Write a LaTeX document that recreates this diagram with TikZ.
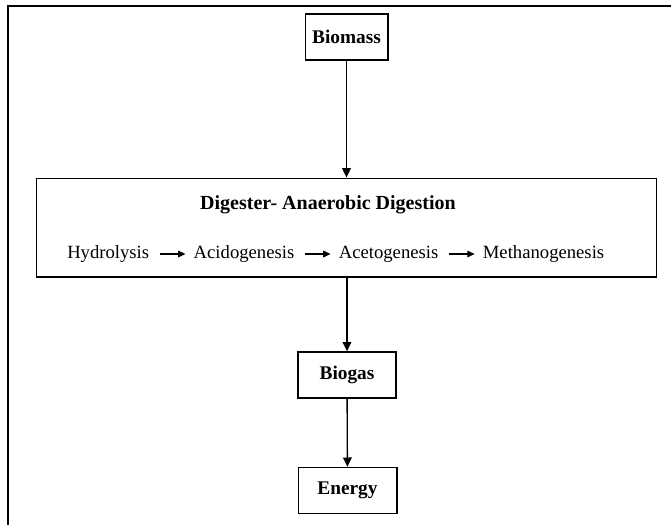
\documentclass[tikz,border=0pt]{standalone}
\usepackage{fontspec}
\setmainfont{Liberation Serif}
\usetikzlibrary{arrows.meta, positioning}

\begin{document}
\begin{tikzpicture}[x=0.75pt, y=-0.75pt, >={Triangle[length=7pt, width=6.5pt]}, node distance=33pt,
        box/.style={rectangle, draw, line width=1pt, minimum height=34.5pt, font=\fontsize{14.5}{17}\selectfont\bfseries},
        stage/.style={inner sep=0pt, font=\fontsize{14}{17}\selectfont},
        arrow/.style={->, line width=1pt},
        flow/.style={-{Triangle[length=5.5pt, width=5pt]}, line width=0.8pt, shorten <=8pt, shorten >=6pt}]

        \useasboundingbox (0,0) rectangle (671,525);
        \draw[line width=1.5pt] (671,6) -- (8,6) -- (8,525);

        \node[box, minimum width=62pt] (biomass) at (346.5,37) {Biomass};
        \node[box, minimum width=465pt, minimum height=74pt] (digester) at (346.5,227.5) {};
        \node[font=\fontsize{15}{17}\selectfont\bfseries] (title) at (328,205) {Digester- Anaerobic Digestion};

        % stages inside the digester
        \node[stage, anchor=west] (hydro) at (67,254) {Hydrolysis};
        \node[stage, right=of hydro] (acido) {Acidogenesis};
        \node[stage, right=of acido] (aceto) {Acetogenesis};
        \node[stage, right=of aceto] (methano) {Methanogenesis};

        \node[box, minimum width=73.5pt] (biogas) at (347,375) {Biogas};
        \node[box, minimum width=74pt] (energy) at (347.5,490.5) {Energy};

        \draw[flow] (hydro) -- (acido);
        \draw[flow] (acido) -- (aceto);
        \draw[flow] (aceto) -- (methano);

        \draw[arrow] (biomass) -- (digester);
        \draw[arrow] (digester.south -| biogas) -- (biogas);
        \draw[arrow] (biogas) -- (energy);
    \end{tikzpicture}
\end{document}
